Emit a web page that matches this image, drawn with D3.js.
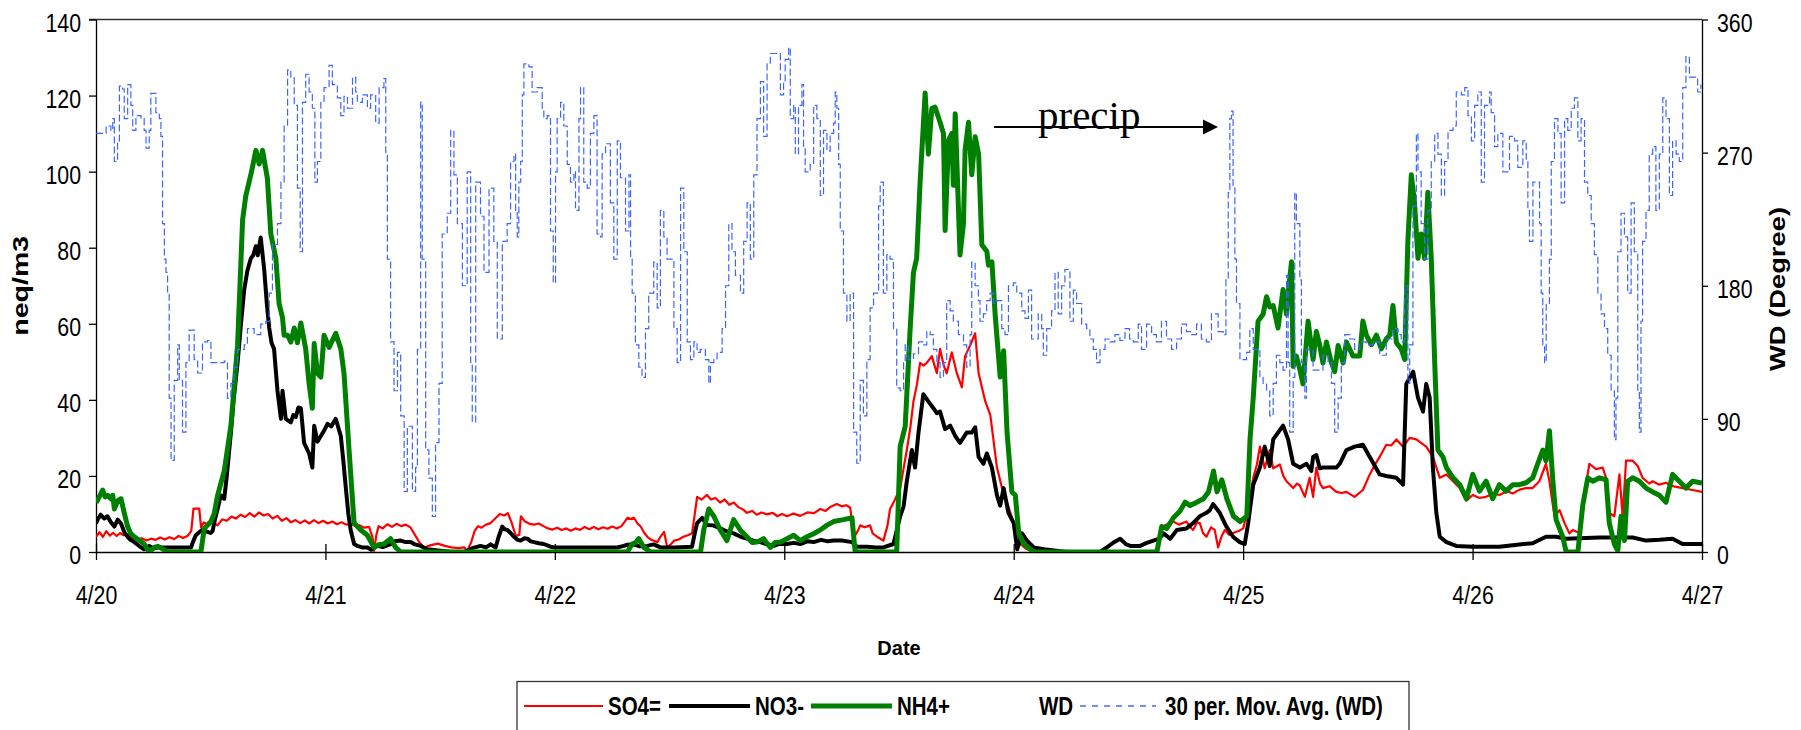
<!DOCTYPE html>
<html>
<head>
<meta charset="utf-8">
<script src="https://cdn.jsdelivr.net/npm/d3@7"></script>
<style>
  body { margin: 0; background: #fff; }
  svg { display: block; }
  .tick text { font-family: "Liberation Sans", Arial, sans-serif; font-size: 26px; fill: #000; }
</style>
</head>
<body>
<div id="chart"></div>
<script>
// ---- data: [day since 4/20 00:00, value] ----
const dateLabels = ["4/20", "4/21", "4/22", "4/23", "4/24", "4/25", "4/26", "4/27"];
const leftTicks = [0, 20, 40, 60, 80, 100, 120, 140];
const rightTicks = [0, 90, 180, 270, 360];

// SO4= (neq/m3)
const so4 = [[0,4],[0.015,5.2],[0.03,4],[0.045,5.5],[0.06,4.3],[0.075,5],[0.09,4.2],[0.105,5],[0.12,4.4],[0.14,4.6],[0.16,3.6],[0.18,3.4],[0.2,3.6],[0.22,3],[0.24,3.5],[0.26,3.2],[0.28,3.8],[0.3,3.3],[0.32,3.9],[0.34,3.4],[0.36,4.2],[0.38,3.7],[0.4,4.3],[0.415,5.5],[0.425,11.4],[0.45,11.4],[0.458,6.5],[0.47,7.8],[0.49,7],[0.51,7.8],[0.53,7],[0.55,8.6],[0.57,8.2],[0.59,9.3],[0.61,8.8],[0.63,9.8],[0.65,9.2],[0.67,10.2],[0.69,9.3],[0.71,10.4],[0.73,9.6],[0.75,10],[0.77,8.8],[0.79,9.5],[0.81,8.2],[0.83,8.9],[0.85,7.8],[0.87,8.4],[0.89,7.6],[0.91,8.3],[0.93,7.5],[0.95,8.4],[0.97,7.6],[0.99,8.2],[1.01,7.5],[1.03,8],[1.05,7.3],[1.07,7.8],[1.09,7.2],[1.11,7.4],[1.13,6.8],[1.15,7],[1.17,6.4],[1.19,6.6],[1.205,4],[1.212,0.3],[1.222,4.5],[1.232,6.8],[1.25,6.2],[1.27,7.3],[1.29,6.6],[1.31,7.4],[1.33,6.8],[1.35,7.2],[1.37,6.5],[1.39,4.5],[1.41,2.5],[1.43,1.2],[1.46,1.8],[1.49,2.2],[1.52,1.6],[1.55,1.2],[1.58,1],[1.605,1.2],[1.618,0.3],[1.635,2.5],[1.65,5.5],[1.665,6.8],[1.68,6.4],[1.7,7.2],[1.72,7.6],[1.74,8.8],[1.76,10],[1.78,9.6],[1.795,10.2],[1.81,8],[1.83,4.2],[1.845,4.5],[1.852,9.4],[1.87,8],[1.89,7.4],[1.91,7.2],[1.93,7.5],[1.95,6.8],[1.97,6.2],[1.99,5.9],[2.01,6.4],[2.03,5.8],[2.05,6.2],[2.07,5.6],[2.09,6.2],[2.11,5.8],[2.13,6.6],[2.15,6],[2.17,6.6],[2.19,6],[2.21,6.5],[2.23,6.1],[2.25,6.7],[2.27,6.2],[2.29,6.8],[2.305,8],[2.316,9],[2.33,8.7],[2.345,9],[2.36,7.5],[2.374,6.7],[2.39,5],[2.403,4],[2.42,3.2],[2.447,2.6],[2.46,4],[2.476,5.3],[2.49,1.2],[2.505,2],[2.52,3],[2.54,3.3],[2.56,4],[2.58,4.4],[2.598,4.9],[2.61,10],[2.62,14.5],[2.64,13.8],[2.663,15],[2.68,13.8],[2.7,14.2],[2.72,13],[2.74,13.8],[2.76,12.4],[2.78,13],[2.8,11.8],[2.82,11.2],[2.837,10.3],[2.86,10.8],[2.88,9.8],[2.9,10.4],[2.924,9.9],[2.95,10.3],[2.97,9.4],[2.99,10],[3.012,9.4],[3.04,10.1],[3.07,9.5],[3.1,10.4],[3.13,10.2],[3.157,11.3],[3.18,10.8],[3.2,11.8],[3.229,12.6],[3.25,12],[3.27,12.3],[3.287,11.7],[3.3,6],[3.305,4],[3.32,5.5],[3.331,7],[3.35,6.5],[3.374,7],[3.385,4.9],[3.41,3.8],[3.432,3],[3.45,7],[3.461,11.3],[3.48,13.5],[3.505,16.8],[3.52,22],[3.534,26.8],[3.55,33],[3.563,39.6],[3.578,44],[3.592,49.7],[3.607,49],[3.621,49.7],[3.643,51.5],[3.655,49],[3.665,47],[3.679,53.4],[3.695,49],[3.708,47],[3.73,52.5],[3.752,47],[3.774,43.3],[3.788,51.5],[3.81,54.3],[3.832,57.5],[3.847,47],[3.876,39.6],[3.898,36],[3.927,22.2],[3.949,16.8],[3.971,13],[4.0,7.6],[4.029,2.1],[4.05,1],[4.073,0.3],[4.16,0],[4.62,0],[4.651,6.7],[4.675,7.5],[4.695,8],[4.72,7.2],[4.753,8],[4.77,6.5],[4.782,5.8],[4.8,7.8],[4.811,7.6],[4.825,5],[4.84,4],[4.86,6.5],[4.876,5.8],[4.891,1.2],[4.905,4],[4.92,5.8],[4.94,4.5],[4.956,5],[4.98,5.5],[5.0,6.2],[5.022,11.3],[5.044,19.5],[5.06,23],[5.073,27.7],[5.094,22],[5.116,26.8],[5.131,22],[5.16,23],[5.175,20],[5.189,18.6],[5.218,16.8],[5.235,18],[5.247,17.5],[5.269,14.5],[5.29,19.5],[5.305,14.5],[5.319,22.2],[5.335,18],[5.348,16.8],[5.377,17.3],[5.406,15.8],[5.43,15.5],[5.45,15.8],[5.486,14.5],[5.522,16.3],[5.552,20.4],[5.575,23],[5.595,25],[5.624,28.2],[5.645,28],[5.668,29.6],[5.697,27.7],[5.726,30],[5.755,29.6],[5.798,27.7],[5.827,25],[5.857,19.5],[5.886,20.4],[5.915,18.6],[5.944,16.8],[5.973,13.5],[6.001,15],[6.03,14.2],[6.059,14.5],[6.09,15.4],[6.117,15],[6.15,16],[6.175,15.4],[6.205,16.4],[6.233,16.8],[6.262,16.8],[6.291,18.6],[6.32,23.2],[6.335,18.6],[6.357,9.4],[6.379,11],[6.401,7.6],[6.422,4.9],[6.437,5.8],[6.466,5],[6.495,18],[6.509,23.2],[6.538,21.8],[6.567,22.2],[6.582,19.5],[6.596,10.3],[6.618,9.4],[6.64,20.4],[6.654,9.4],[6.669,24],[6.698,24],[6.72,22.6],[6.741,19.5],[6.77,18],[6.785,18.6],[6.814,17.7],[6.843,18.2],[6.872,17.3],[6.915,16.8],[6.959,16.3],[7.0,15.8]];

// NO3- (neq/m3)
const no3 = [[0,7.5],[0.007,8.5],[0.02,9.8],[0.036,8.8],[0.05,9.4],[0.065,7.8],[0.08,6.7],[0.095,8.5],[0.109,7.5],[0.125,5],[0.138,4],[0.15,3.2],[0.167,2.6],[0.19,1.5],[0.21,0.7],[0.232,1.6],[0.25,1],[0.269,1.2],[0.3,1.2],[0.35,1.2],[0.414,1.2],[0.425,3],[0.435,4.4],[0.45,5.2],[0.464,5.8],[0.486,5.3],[0.5,5],[0.508,5.5],[0.52,9],[0.53,11.3],[0.544,14.9],[0.559,14],[0.57,20],[0.588,31.4],[0.6,40],[0.617,49.7],[0.632,60],[0.646,69],[0.66,74],[0.675,77.2],[0.685,78],[0.697,80.4],[0.705,78],[0.718,82.7],[0.733,74.4],[0.745,65],[0.755,58.9],[0.765,55],[0.776,53.4],[0.791,42.4],[0.806,35],[0.813,42.4],[0.827,35],[0.849,34.1],[0.86,36],[0.871,35.5],[0.882,38],[0.893,37.8],[0.907,28.7],[0.929,25.9],[0.943,22.2],[0.951,33.2],[0.965,29],[0.98,30.5],[0.995,32],[1.009,33.7],[1.025,33],[1.045,35],[1.067,30.5],[1.078,24],[1.089,16.8],[1.1,10],[1.11,5.8],[1.125,2.1],[1.139,1.6],[1.16,1.2],[1.183,1.2],[1.2,0.6],[1.226,1.6],[1.25,1.3],[1.284,2.1],[1.3,2.8],[1.328,3],[1.35,2.6],[1.372,2.6],[1.39,2],[1.415,1.6],[1.444,0.7],[1.5,0.3],[1.55,0],[1.604,0],[1.64,1],[1.676,1.6],[1.7,1.2],[1.72,2],[1.742,1.2],[1.755,4],[1.771,6.7],[1.78,6],[1.793,5.8],[1.807,5],[1.822,4],[1.837,3.2],[1.851,3],[1.866,3.6],[1.88,3.5],[1.895,2.8],[1.909,2.6],[1.93,2.3],[1.952,2.1],[1.981,1.4],[2.0,1.2],[2.054,1.2],[2.15,1.2],[2.272,1.2],[2.3,1.6],[2.316,1.9],[2.345,2],[2.37,1.5],[2.403,1.6],[2.43,2],[2.461,1.2],[2.52,1.2],[2.598,1.4],[2.61,5],[2.62,7.6],[2.642,9],[2.663,7.1],[2.69,7],[2.721,6.2],[2.75,5.4],[2.779,4.9],[2.81,4],[2.837,3.5],[2.866,3],[2.896,2.6],[2.925,2],[2.954,1.6],[2.98,2.2],[3.012,2.1],[3.04,2.4],[3.07,2.1],[3.1,2.8],[3.128,2.6],[3.16,3.2],[3.19,2.8],[3.215,3],[3.25,3],[3.295,2.6],[3.316,1.4],[3.36,1.4],[3.4,1.2],[3.432,1.2],[3.476,2.1],[3.505,9.4],[3.52,12],[3.534,18.6],[3.556,26.8],[3.57,22.2],[3.585,31.4],[3.606,41.5],[3.628,39.6],[3.65,37.8],[3.665,36.5],[3.679,36.9],[3.701,32.3],[3.723,33.2],[3.745,30.5],[3.766,28.7],[3.795,31.4],[3.817,31.4],[3.832,32.8],[3.847,25],[3.868,23.2],[3.883,25.9],[3.905,22.2],[3.927,14.9],[3.941,12.2],[3.956,16.8],[3.977,10.3],[4.0,7.6],[4.015,0.7],[4.036,4.9],[4.058,3],[4.087,1.2],[4.131,0.7],[4.232,0],[4.377,0],[4.406,1.2],[4.435,2.5],[4.464,3.5],[4.49,2],[4.508,1.6],[4.551,1.6],[4.58,2.4],[4.609,3],[4.635,3.5],[4.653,4.9],[4.682,3.5],[4.711,5.8],[4.753,6.2],[4.782,7.6],[4.811,9.4],[4.84,10.3],[4.855,11],[4.869,12.6],[4.898,10.3],[4.927,6.7],[4.956,4],[4.985,2.6],[5.007,2.1],[5.022,7.6],[5.044,17.7],[5.073,22.2],[5.094,27.7],[5.116,22.6],[5.131,29.6],[5.152,31.4],[5.174,33.2],[5.196,29.6],[5.218,23.2],[5.247,22.2],[5.276,23.2],[5.297,21.3],[5.305,25],[5.319,25.5],[5.334,22],[5.348,22.2],[5.377,22.2],[5.406,22.2],[5.421,23.2],[5.45,26.8],[5.486,27.7],[5.522,28.2],[5.552,25],[5.595,20.4],[5.624,20],[5.668,19.5],[5.697,17.7],[5.711,44.2],[5.741,47.4],[5.762,40.6],[5.784,36.9],[5.798,44.2],[5.813,40.6],[5.827,22.2],[5.842,10.3],[5.857,4],[5.886,2.6],[5.929,1.6],[6.001,1.4],[6.117,1.4],[6.204,2],[6.262,2.3],[6.32,4],[6.364,4],[6.408,3.5],[6.553,3.8],[6.698,3.8],[6.756,3],[6.814,3.2],[6.872,3.5],[6.915,2.1],[7.0,2.1]];

// NH4+ (neq/m3)
const nh4 = [[0,13],[0.007,13.6],[0.029,16.3],[0.04,14.5],[0.051,14.9],[0.065,14],[0.073,14.9],[0.08,11.3],[0.095,13.5],[0.109,14],[0.123,10.3],[0.138,6.7],[0.15,5],[0.167,4],[0.19,3],[0.21,2.1],[0.232,0],[0.254,1.2],[0.27,1.5],[0.29,0.8],[0.312,0],[0.457,0],[0.472,6.2],[0.501,8],[0.515,10],[0.53,14.9],[0.559,21.3],[0.588,33.2],[0.617,54.3],[0.639,87.3],[0.653,93.7],[0.675,99.2],[0.697,105.6],[0.711,102],[0.726,105.6],[0.747,98.2],[0.762,83.6],[0.784,77.2],[0.798,65.3],[0.813,61.6],[0.82,57],[0.835,57],[0.849,55.2],[0.864,58.9],[0.878,55],[0.893,60.2],[0.914,53.4],[0.929,44.2],[0.943,37.8],[0.951,54.8],[0.965,47],[0.98,46],[0.994,57],[1.016,53.8],[1.045,57.5],[1.067,53.4],[1.081,47],[1.103,26.8],[1.125,7.6],[1.154,5.8],[1.183,4.4],[1.212,1.2],[1.235,2],[1.255,2.1],[1.284,3.5],[1.306,1.2],[1.328,0],[1.836,0],[2.316,0],[2.337,2.1],[2.352,2.5],[2.366,3.5],[2.388,1.2],[2.417,0],[2.635,0],[2.649,5.8],[2.671,11.3],[2.693,9.4],[2.721,5.8],[2.75,3],[2.779,8.5],[2.808,5.8],[2.837,4],[2.86,2.5],[2.881,2.6],[2.91,3.5],[2.939,1.2],[2.96,2.5],[2.983,2.6],[3.012,3.5],[3.041,4.4],[3.07,3],[3.099,4],[3.128,4.8],[3.157,5.8],[3.185,7],[3.215,8],[3.258,8.5],[3.295,9],[3.309,0],[3.49,0],[3.505,27.7],[3.527,33],[3.548,58],[3.563,73.5],[3.577,77.2],[3.592,97.3],[3.614,120.7],[3.628,104.6],[3.643,116.6],[3.657,117],[3.679,113],[3.694,110],[3.701,84.5],[3.716,108.3],[3.73,110],[3.737,96.4],[3.745,115.2],[3.766,78.1],[3.781,86.3],[3.788,105.6],[3.803,113],[3.817,99.2],[3.832,109.2],[3.847,104.6],[3.861,80.8],[3.883,79],[3.89,75.4],[3.905,76.3],[3.919,62.5],[3.941,46],[3.956,52.9],[3.971,31.4],[3.992,15.8],[4.007,14.9],[4.022,4.9],[4.044,2.1],[4.087,0],[4.624,0],[4.645,6.7],[4.667,6.2],[4.696,9],[4.725,10.8],[4.747,13.1],[4.769,12.2],[4.798,13.1],[4.827,14],[4.849,15.8],[4.871,21.3],[4.886,15.8],[4.907,19],[4.929,14],[4.958,9.4],[4.987,8],[5.016,9.4],[5.03,29.6],[5.044,40.6],[5.065,60.7],[5.087,62.5],[5.102,67.1],[5.116,64.4],[5.131,64.8],[5.152,58.9],[5.174,69],[5.189,62.5],[5.196,68],[5.211,76.3],[5.218,48.8],[5.232,51.5],[5.247,48],[5.261,44.2],[5.283,60.7],[5.305,50.6],[5.319,58],[5.334,54.3],[5.348,49.7],[5.363,55.2],[5.385,49.7],[5.399,47.4],[5.414,54.3],[5.436,49.7],[5.45,55.2],[5.479,51.5],[5.508,51.5],[5.522,60.7],[5.537,57],[5.559,54.5],[5.581,57],[5.602,53.4],[5.624,56],[5.639,57],[5.653,64.8],[5.668,55],[5.689,53.4],[5.704,50.6],[5.718,81.8],[5.733,99.2],[5.747,91.8],[5.762,77.2],[5.776,83.6],[5.791,77.2],[5.805,94.6],[5.82,77.2],[5.835,49.7],[5.849,26.8],[5.871,25],[5.886,22.2],[5.915,19.5],[5.944,17.7],[5.973,14],[6.001,20.4],[6.03,16],[6.059,18.6],[6.088,14],[6.117,17.7],[6.146,16],[6.175,17.7],[6.204,17.7],[6.233,18.2],[6.262,19.5],[6.284,23.2],[6.306,26.8],[6.32,24],[6.335,31.9],[6.349,19.5],[6.364,8.5],[6.393,4],[6.408,0],[6.459,0],[6.48,12.2],[6.502,19.5],[6.524,18.6],[6.553,19.5],[6.582,19],[6.596,7.6],[6.618,2.1],[6.633,0.3],[6.647,9.4],[6.662,3],[6.676,18.6],[6.698,19.5],[6.727,18.6],[6.756,16.8],[6.785,15.8],[6.814,14.9],[6.843,13.1],[6.872,20.4],[6.901,18.6],[6.93,16.8],[6.959,18.6],[7.0,18.1]];

// 30 per. moving average of WD (degree)
const wdAvg = [[0.0,283],[0.022,283],[0.044,288],[0.065,285],[0.073,293],[0.08,264],[0.094,278],[0.102,315],[0.116,313],[0.123,293],[0.138,316],[0.152,302],[0.16,285],[0.174,295],[0.196,293],[0.21,285],[0.218,273],[0.232,285],[0.239,310],[0.261,297],[0.276,293],[0.283,281],[0.29,222],[0.298,198],[0.305,189],[0.312,175],[0.319,104],[0.327,62],[0.341,116],[0.356,140],[0.363,116],[0.377,81],[0.392,128],[0.406,150],[0.428,130],[0.443,121],[0.464,142],[0.486,143],[0.501,128],[0.53,128],[0.559,129],[0.573,104],[0.588,114],[0.602,125],[0.617,137],[0.646,140],[0.66,151],[0.689,147],[0.718,154],[0.74,156],[0.755,175],[0.769,208],[0.791,222],[0.806,250],[0.82,288],[0.835,326],[0.849,321],[0.864,302],[0.878,246],[0.89,203],[0.9,304],[0.914,323],[0.929,311],[0.943,300],[0.954,250],[0.965,264],[0.98,304],[0.994,314],[1.016,329],[1.03,316],[1.052,307],[1.067,295],[1.081,308],[1.096,300],[1.118,321],[1.132,311],[1.139,304],[1.161,309],[1.183,300],[1.197,309],[1.219,290],[1.234,314],[1.255,320],[1.263,269],[1.27,198],[1.284,142],[1.299,109],[1.314,135],[1.328,92],[1.343,41],[1.357,85],[1.379,41],[1.393,57],[1.401,137],[1.415,304],[1.422,198],[1.437,69],[1.451,50],[1.466,24],[1.48,74],[1.495,114],[1.509,215],[1.531,229],[1.546,285],[1.56,255],[1.575,222],[1.597,180],[1.618,257],[1.633,128],[1.64,88],[1.655,250],[1.676,227],[1.691,189],[1.713,246],[1.734,210],[1.749,144],[1.771,210],[1.792,222],[1.807,264],[1.822,269],[1.829,231],[1.836,213],[1.843,250],[1.851,264],[1.858,309],[1.865,330],[1.887,328],[1.901,311],[1.923,314],[1.945,300],[1.952,293],[1.967,295],[1.974,293],[1.981,217],[1.993,182],[2.003,257],[2.01,293],[2.025,304],[2.039,288],[2.054,262],[2.068,250],[2.083,257],[2.09,231],[2.105,293],[2.112,314],[2.126,250],[2.141,246],[2.155,283],[2.17,295],[2.184,215],[2.199,213],[2.206,269],[2.221,276],[2.242,236],[2.257,198],[2.272,278],[2.286,253],[2.308,217],[2.323,255],[2.33,198],[2.337,175],[2.351,140],[2.366,125],[2.38,118],[2.395,151],[2.409,175],[2.431,196],[2.446,165],[2.46,231],[2.475,213],[2.489,198],[2.511,198],[2.519,151],[2.533,128],[2.548,246],[2.562,203],[2.577,142],[2.591,130],[2.606,142],[2.62,135],[2.634,137],[2.656,130],[2.671,114],[2.678,128],[2.693,130],[2.707,135],[2.729,151],[2.744,180],[2.758,222],[2.772,203],[2.787,187],[2.809,175],[2.823,210],[2.838,236],[2.852,198],[2.867,255],[2.881,293],[2.896,318],[2.91,281],[2.925,330],[2.939,337],[2.961,337],[2.983,309],[2.997,318],[3.004,333],[3.019,341],[3.026,293],[3.041,302],[3.048,269],[3.062,302],[3.077,316],[3.084,274],[3.091,257],[3.113,262],[3.128,302],[3.142,293],[3.157,241],[3.171,285],[3.186,271],[3.2,283],[3.215,290],[3.222,311],[3.229,300],[3.237,262],[3.244,217],[3.258,175],[3.273,156],[3.287,175],[3.302,81],[3.316,60],[3.331,116],[3.345,92],[3.36,130],[3.374,165],[3.389,175],[3.411,234],[3.418,250],[3.432,175],[3.447,201],[3.461,198],[3.476,151],[3.49,111],[3.505,109],[3.52,128],[3.527,140],[3.541,130],[3.563,134],[3.585,142],[3.607,140],[3.621,149],[3.636,147],[3.65,137],[3.665,128],[3.679,118],[3.694,128],[3.708,170],[3.723,163],[3.737,156],[3.759,147],[3.781,140],[3.795,125],[3.81,147],[3.817,196],[3.832,180],[3.846,170],[3.853,156],[3.868,161],[3.882,170],[3.897,175],[3.912,168],[3.926,170],[3.948,151],[3.962,147],[3.977,180],[3.999,182],[4.013,175],[4.035,163],[4.049,158],[4.064,177],[4.078,144],[4.093,144],[4.107,161],[4.122,151],[4.129,133],[4.144,151],[4.165,163],[4.18,189],[4.194,161],[4.209,180],[4.223,191],[4.238,191],[4.245,156],[4.26,177],[4.274,168],[4.296,154],[4.318,151],[4.332,144],[4.347,137],[4.361,128],[4.376,137],[4.398,144],[4.419,142],[4.441,147],[4.463,143],[4.485,151],[4.505,144],[4.521,142],[4.543,154],[4.557,137],[4.579,154],[4.601,147],[4.622,142],[4.644,156],[4.666,144],[4.688,137],[4.71,144],[4.731,154],[4.753,149],[4.775,147],[4.797,154],[4.818,144],[4.84,142],[4.862,161],[4.877,161],[4.891,149],[4.913,147],[4.925,184],[4.935,243],[4.942,293],[4.949,298],[4.956,246],[4.964,198],[4.971,168],[4.986,130],[5.0,130],[5.015,135],[5.029,151],[5.044,137],[5.065,137],[5.073,118],[5.087,114],[5.102,109],[5.116,92],[5.131,114],[5.145,133],[5.16,128],[5.174,123],[5.189,187],[5.196,128],[5.203,81],[5.218,118],[5.225,243],[5.232,222],[5.247,184],[5.254,128],[5.269,104],[5.276,137],[5.305,123],[5.327,123],[5.348,133],[5.37,128],[5.385,114],[5.399,81],[5.414,104],[5.428,128],[5.443,147],[5.465,144],[5.486,137],[5.508,142],[5.537,140],[5.566,142],[5.595,133],[5.624,144],[5.653,151],[5.675,147],[5.689,142],[5.704,180],[5.718,114],[5.726,140],[5.74,234],[5.755,283],[5.762,257],[5.776,222],[5.791,198],[5.805,231],[5.82,264],[5.835,283],[5.849,269],[5.864,241],[5.878,264],[5.893,285],[5.915,288],[5.929,311],[5.951,309],[5.966,314],[5.98,295],[5.995,278],[6.009,302],[6.023,311],[6.038,250],[6.052,302],[6.074,311],[6.081,297],[6.096,274],[6.11,283],[6.132,257],[6.161,281],[6.183,278],[6.197,260],[6.219,278],[6.234,264],[6.241,231],[6.248,210],[6.263,250],[6.277,250],[6.292,222],[6.299,175],[6.306,140],[6.314,128],[6.321,168],[6.335,198],[6.343,264],[6.357,293],[6.372,283],[6.386,236],[6.401,293],[6.415,285],[6.43,300],[6.444,307],[6.459,278],[6.473,293],[6.488,250],[6.502,241],[6.517,222],[6.531,201],[6.546,175],[6.56,161],[6.575,151],[6.589,133],[6.604,109],[6.618,76],[6.625,104],[6.633,203],[6.647,229],[6.662,213],[6.676,175],[6.691,236],[6.705,203],[6.72,109],[6.727,81],[6.734,156],[6.741,210],[6.756,231],[6.77,269],[6.785,274],[6.799,231],[6.814,269],[6.829,307],[6.843,293],[6.858,241],[6.872,278],[6.887,269],[6.901,264],[6.916,314],[6.93,335],[6.945,321],[6.967,321],[6.981,311],[6.995,316]];

const legendItems = [
  { label: "SO4=", color: "#ff0000", width: 2.2, x: 524, len: 79, tx: 608 },
  { label: "NO3-", color: "#000000", width: 4, x: 669, len: 81, tx: 755 },
  { label: "NH4+", color: "#008000", width: 5, x: 811, len: 81, tx: 897 },
  { label: "WD", color: null, width: 0, x: 0, len: 0, tx: 1039 },
  { label: "30 per. Mov. Avg. (WD)", color: "#4169ff", width: 1.4, x: 1080, len: 76, tx: 1165, dash: "6,6" }
];

// ---- layout ----
const W = 1801, H = 730;
const plotL = 96, plotR = 1702, plotT = 19.5, plotB = 552;
const sans = '"Liberation Sans", Arial, sans-serif';

// narrow-face look: squeeze text horizontally
function squeeze(sel, f) {
  sel.each(function () {
    const len = this.getComputedTextLength();
    d3.select(this).attr("textLength", len * f).attr("lengthAdjust", "spacingAndGlyphs");
  });
}

const svg = d3.select("#chart").append("svg")
  .attr("width", W).attr("height", H);

const x = d3.scaleLinear().domain([0, 7]).range([plotL, plotR]);
const yL = d3.scaleLinear().domain([0, 140]).range([plotB, plotT]);
const yR = d3.scaleLinear().domain([0, 360]).range([plotB, plotT]);

svg.append("defs").append("clipPath").attr("id", "plot")
  .append("rect").attr("x", plotL).attr("y", plotT - 3).attr("width", plotR - plotL).attr("height", plotB - plotT + 3);

// plot border (top)
svg.append("line")
  .attr("x1", plotL - 7).attr("x2", plotR)
  .attr("y1", plotT).attr("y2", plotT)
  .attr("stroke", "#333").attr("stroke-width", 1.3);

// left axis
const gL = svg.append("g")
  .attr("transform", `translate(${plotL},0)`)
  .call(d3.axisLeft(yL).tickValues(leftTicks).tickSize(7).tickSizeOuter(0).tickPadding(8));
gL.selectAll("text").attr("dy", "0.45em");

// right axis
const gR = svg.append("g")
  .attr("transform", `translate(${plotR},0)`)
  .call(d3.axisRight(yR).tickValues(rightTicks).tickSize(6).tickSizeOuter(0).tickPadding(9));
gR.selectAll("text").attr("dy", "0.45em");

// bottom axis, cross ticks
const gB = svg.append("g")
  .attr("transform", `translate(0,${plotB})`)
  .call(d3.axisBottom(x).tickValues(d3.range(0, 8)).tickSize(8).tickSizeOuter(0).tickPadding(26)
    .tickFormat(i => dateLabels[i]));
gB.selectAll(".tick line").attr("y1", -8);
gB.selectAll("text").attr("dy", "0.71em");

svg.selectAll(".domain").attr("stroke", "#000").attr("stroke-width", 1.3);
svg.selectAll(".tick line").attr("stroke", "#000").attr("stroke-width", 1.3);
squeeze(svg.selectAll(".tick text"), 0.82);

// series
const plot = svg.append("g").attr("clip-path", "url(#plot)");
const lineL = d3.line().x(d => x(d[0])).y(d => yL(d[1]));
const lineR = d3.line().x(d => x(d[0])).y(d => yR(d[1])).curve(d3.curveStepAfter);

plot.append("path").datum(so4).attr("d", lineL)
  .attr("fill", "none").attr("stroke", "#ff0000").attr("stroke-width", 2.2).attr("stroke-linejoin", "round");
plot.append("path").datum(no3).attr("d", lineL)
  .attr("fill", "none").attr("stroke", "#000").attr("stroke-width", 4).attr("stroke-linejoin", "round");
plot.append("path").datum(nh4).attr("d", lineL)
  .attr("fill", "none").attr("stroke", "#008000").attr("stroke-width", 5).attr("stroke-linejoin", "round");
plot.append("path").datum(wdAvg).attr("d", lineR)
  .attr("fill", "none").attr("stroke", "#3d66ff").attr("stroke-width", 1.2)
  .attr("stroke-dasharray", "7,3");

// axis titles
svg.append("text")
  .attr("transform", `translate(28,${(plotT + plotB) / 2}) rotate(-90)`)
  .attr("text-anchor", "middle")
  .attr("textLength", 100).attr("lengthAdjust", "spacingAndGlyphs")
  .style("font-family", sans).style("font-weight", "bold").style("font-size", "22px")
  .text("neq/m3");

svg.append("text")
  .attr("transform", `translate(1785,289) rotate(-90)`)
  .attr("text-anchor", "middle")
  .attr("textLength", 164).attr("lengthAdjust", "spacingAndGlyphs")
  .style("font-family", sans).style("font-weight", "bold").style("font-size", "22px")
  .text("WD (Degree)");

svg.append("text")
  .attr("x", (plotL + plotR) / 2).attr("y", 655)
  .attr("text-anchor", "middle")
  .style("font-family", sans).style("font-weight", "bold").style("font-size", "20px")
  .text("Date");

// precip annotation
svg.append("line")
  .attr("x1", 994).attr("x2", 1204).attr("y1", 127).attr("y2", 127)
  .attr("stroke", "#000").attr("stroke-width", 2);
svg.append("path")
  .attr("d", "M1203,119.5 L1218,127 L1203,134.5 Z")
  .attr("fill", "#000");
svg.append("text")
  .attr("x", 1038).attr("y", 129)
  .style("font-family", '"Liberation Serif", "Times New Roman", serif').style("font-size", "41px")
  .text("precip");

// legend
const lg = svg.append("g");
lg.append("rect")
  .attr("x", 517).attr("y", 681.5).attr("width", 892).attr("height", 70)
  .attr("fill", "#fff").attr("stroke", "#333").attr("stroke-width", 1.3);

legendItems.forEach(d => {
  if (d.color) {
    lg.append("line")
      .attr("x1", d.x).attr("x2", d.x + d.len).attr("y1", 706).attr("y2", 706)
      .attr("stroke", d.color).attr("stroke-width", d.width)
      .attr("stroke-dasharray", d.dash || null);
  }
  lg.append("text")
    .attr("class", "lgtext")
    .attr("x", d.tx).attr("y", 715)
    .style("font-family", sans).style("font-weight", "bold").style("font-size", "25px")
    .text(d.label);
});
squeeze(lg.selectAll(".lgtext"), 0.82);
</script>
</body>
</html>
